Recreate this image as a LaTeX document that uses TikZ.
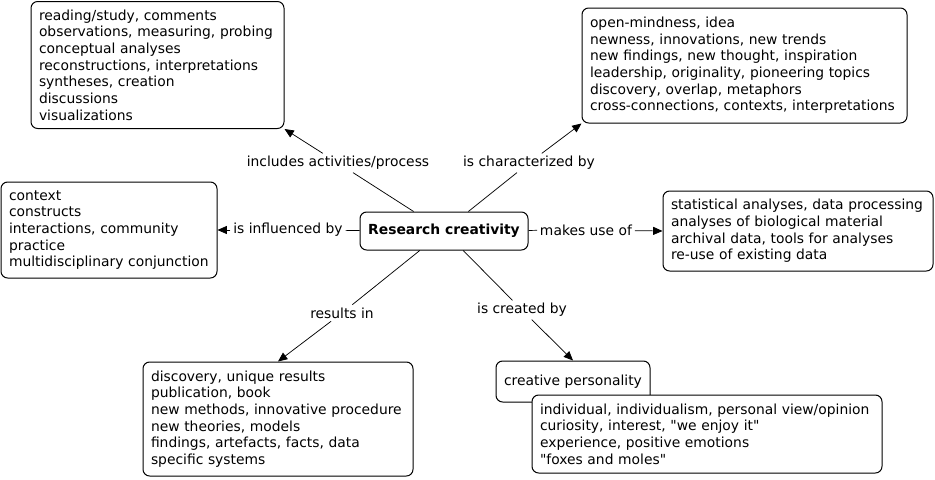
\documentclass[tikz,border=0pt]{standalone}
\usepackage{fontspec}
\setmainfont{DejaVu Sans}
\usetikzlibrary{positioning,arrows.meta}

\begin{document}
\begin{tikzpicture}[x=0.75pt, y=-0.75pt, >={Triangle[length=7pt,width=6pt]},
                    every node/.style={font=\fontsize{10.4}{12.5}\selectfont},
                    cbox/.style={draw, rounded corners=5pt, align=left, inner xsep=6pt, inner ysep=0pt,
                                 fill=white, line width=0.75pt},
                    linklabel/.style={inner sep=2pt},
                    link/.style={line width=0.55pt}]
  \useasboundingbox (0,0) rectangle (935,479);
  % concept boxes
  \node (rc)    [cbox, align=center, minimum width=126pt, minimum height=28.5pt] at (444,231) {\textbf{Research creativity}};
  \node (act)   [cbox, text width=177.75pt, minimum height=95.25pt] at (157.5,65)
    {reading/study, comments\\observations, measuring, probing\\conceptual analyses\\reconstructions, interpretations\\syntheses, creation\\discussions\\visualizations};
  \node (char)  [cbox, text width=231.75pt, minimum height=86.25pt] at (744.5,65.5)
    {open-mindness, idea\\newness, innovations, new trends\\new findings, new thought, inspiration\\leadership, originality, pioneering topics\\discovery, overlap, metaphors\\cross-connections, contexts, interpretations};
  \node (infl)  [cbox, text width=150pt, minimum height=72pt] at (109,230)
    {context\\constructs\\interactions, community\\practice\\multidisciplinary conjunction};
  \node (use)   [cbox, text width=190.5pt, minimum height=60pt] at (798,231)
    {statistical analyses, data processing\\analyses of biological material\\archival data, tools for analyses\\re-use of existing data};
  \node (res)   [cbox, text width=190.5pt, minimum height=85.5pt] at (278,419)
    {discovery, unique results\\publication, book\\new methods, innovative procedure\\new theories, models\\findings, artefacts, facts, data\\specific systems};
  \node (pers)  [cbox, minimum width=115.5pt, minimum height=30.75pt] at (573,381.5) {creative personality};
  \node (indiv) [cbox, text width=250.5pt, minimum height=58.5pt] at (707,434)
    {individual, individualism, personal view/opinion\\curiosity, interest, \textquotedbl we enjoy it\textquotedbl\\experience, positive emotions\\\textquotedbl foxes and moles\textquotedbl};
  % linking phrases
  \node (labact)  [linklabel] at (338,163) {includes activities/process};
  \node (labchar) [linklabel] at (529,163) {is characterized by};
  \node (labinfl) [linklabel] at (288,230) {is influenced by};
  \node (labuse)  [linklabel] at (586,230) {makes use of};
  \node (labres)  [linklabel] at (342,313) {results in};
  \node (labcrt)  [linklabel] at (522,310) {is created by};
  % connectors
  \draw[link]    (rc) -- (labact);
  \draw[link,->] (labact) -- (act.south east);
  \draw[link]    (rc) -- (labchar);
  \draw[link,->] (labchar) -- (char.south west);
  \draw[link]    (rc) -- (labinfl);
  \draw[link,->] (labinfl) -- (infl.east);
  \draw[link]    (rc) -- (labuse);
  \draw[link,->] (labuse) -- (use.west);
  \draw[link]    (rc) -- (labres);
  \draw[link,->] (labres) -- (res.north);
  \draw[link]    (rc) -- (labcrt);
  \draw[link,->] (labcrt) -- (pers.north);
\end{tikzpicture}
\end{document}
